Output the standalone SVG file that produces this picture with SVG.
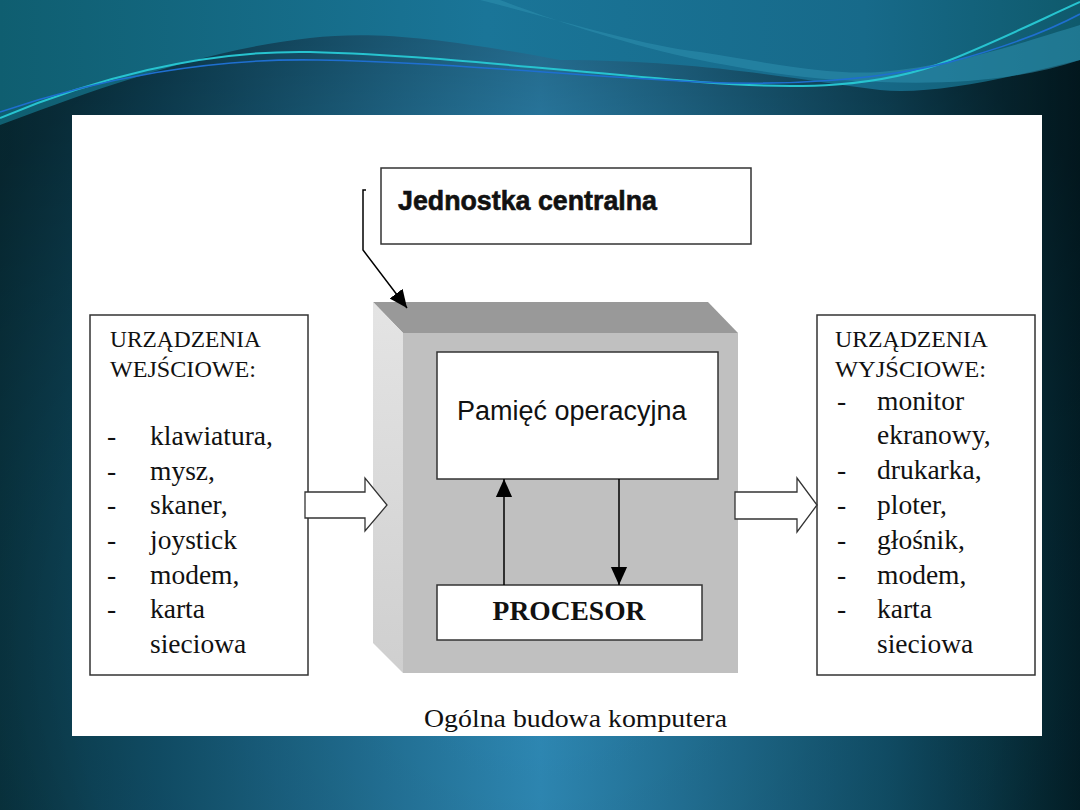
<svg xmlns="http://www.w3.org/2000/svg" width="1080" height="810" viewBox="0 0 1080 810">
<defs>
<linearGradient id="bgH" x1="0" y1="0" x2="1" y2="0">
<stop offset="0" stop-color="#0a3a48"/>
<stop offset="0.15" stop-color="#11506a"/>
<stop offset="0.5" stop-color="#2e88b4"/>
<stop offset="0.82" stop-color="#115069"/>
<stop offset="0.95" stop-color="#07303d"/>
<stop offset="1" stop-color="#03232d"/>
</linearGradient>
<radialGradient id="vign" cx="540" cy="650" r="720" gradientUnits="userSpaceOnUse">
<stop offset="0" stop-color="#000" stop-opacity="0"/>
<stop offset="0.65" stop-color="#000" stop-opacity="0.08"/>
<stop offset="1" stop-color="#000" stop-opacity="0.35"/>
</radialGradient>
<linearGradient id="topG" x1="0" y1="0" x2="1" y2="0">
<stop offset="0" stop-color="#0f5e70"/>
<stop offset="0.45" stop-color="#1a7598"/>
<stop offset="0.8" stop-color="#176a8a"/>
<stop offset="1" stop-color="#0f5a6c"/>
</linearGradient>
<linearGradient id="side" x1="0" y1="0" x2="0" y2="1">
<stop offset="0" stop-color="#e4e4e4"/>
<stop offset="1" stop-color="#cfcfcf"/>
</linearGradient>
<marker id="triBig" viewBox="0 0 10 10" refX="10" refY="5" markerWidth="18" markerHeight="18" markerUnits="userSpaceOnUse" orient="auto">
<path d="M0,0.5 L10,5 L0,9.5 Z" fill="#000"/>
</marker>
</defs>
<style>
.box{fill:#fff;stroke:#333;stroke-width:1.5}
.blk{fill:#fff;stroke:#333;stroke-width:1.3}
.serif{font-family:"Liberation Serif","Times New Roman",serif;fill:#111}
.head{font-size:23px}
.item{font-size:27.5px}
.sans{font-family:"Liberation Sans",Arial,sans-serif;fill:#111}
.ln{stroke:#000;stroke-width:1.5;fill:none}
</style>

<g id="background">
<rect x="0" y="0" width="1080" height="810" fill="url(#bgH)"/>
<rect x="0" y="0" width="1080" height="810" fill="url(#vign)"/>
<path d="M0,0 H1080 V60 C1000,80 930,95 880,90 C800,80 700,60 560,60 C450,40 380,30 310,38 C200,50 80,95 0,125 Z" fill="url(#topG)"/>
<path d="M480,0 C560,20 640,45 700,52 C780,65 830,75 880,72 C960,65 1030,40 1080,25 V60 C1020,80 950,85 880,82 C800,80 740,68 690,58 C610,40 540,15 500,0 Z" fill="#2d8fae" opacity="0.55"/>
<path d="M0,118 C90,80 200,50 310,52 C430,55 550,70 700,82 C800,90 880,88 950,60 C1000,40 1040,20 1080,2" fill="none" stroke="#27c4d0" stroke-width="2"/>
<path d="M0,112 C100,78 210,58 318,60 C440,62 560,75 700,82 C790,86 880,80 950,62 C1010,46 1050,30 1080,14" fill="none" stroke="#1f6fd0" stroke-width="1.6"/>
</g>

<rect id="panel" x="72" y="115" width="970" height="621" fill="#fff"/>

<g id="jednostka-label">
<rect class="box" x="381" y="168" width="370" height="76"/>
<text class="sans" x="398" y="210" font-size="27" font-weight="bold" stroke="#111" stroke-width="0.6" textLength="259" lengthAdjust="spacingAndGlyphs">Jednostka centralna</text>
</g>

<g id="jednostka-centralna">
<polygon points="373,302 708,302 738,333 403,333" fill="#999"/>
<polygon points="373,302 403,333 403,673 373,643" fill="url(#side)"/>
<rect x="403" y="333" width="335" height="340" fill="#c0c0c0"/>
</g>

<g id="pamiec">
<rect class="box" x="437" y="352" width="281" height="127"/>
<text class="sans" x="457" y="420" font-size="27">Pamięć operacyjna</text>
</g>

<g id="procesor">
<rect class="box" x="437" y="585" width="265" height="55"/>
<text class="serif" x="569" y="620" font-size="27.5" font-weight="bold" text-anchor="middle">PROCESOR</text>
</g>

<g id="wejsciowe">
<rect class="box" x="90" y="315" width="218" height="360"/>
<text class="serif head" x="110" y="347" textLength="151" lengthAdjust="spacingAndGlyphs">URZĄDZENIA</text>
<text class="serif head" x="110" y="377" textLength="146" lengthAdjust="spacingAndGlyphs">WEJŚCIOWE:</text>
<g class="serif item">
<text x="107" y="445">-</text><text x="150" y="445">klawiatura,</text>
<text x="107" y="480">-</text><text x="150" y="480">mysz,</text>
<text x="107" y="514">-</text><text x="150" y="514">skaner,</text>
<text x="107" y="549">-</text><text x="150" y="549">joystick</text>
<text x="107" y="584">-</text><text x="150" y="584">modem,</text>
<text x="107" y="618">-</text><text x="150" y="618">karta</text>
<text x="150" y="653">sieciowa</text>
</g>
</g>

<g id="wyjsciowe">
<rect class="box" x="817" y="315" width="218" height="360"/>
<text class="serif head" x="835" y="347" textLength="153" lengthAdjust="spacingAndGlyphs">URZĄDZENIA</text>
<text class="serif head" x="835" y="377" textLength="151" lengthAdjust="spacingAndGlyphs">WYJŚCIOWE:</text>
<g class="serif item">
<text x="837" y="410">-</text><text x="877" y="410">monitor</text>
<text x="877" y="444">ekranowy,</text>
<text x="837" y="479">-</text><text x="877" y="479">drukarka,</text>
<text x="837" y="514">-</text><text x="877" y="514">ploter,</text>
<text x="837" y="549">-</text><text x="877" y="549">głośnik,</text>
<text x="837" y="584">-</text><text x="877" y="584">modem,</text>
<text x="837" y="618">-</text><text x="877" y="618">karta</text>
<text x="877" y="653">sieciowa</text>
</g>
</g>

<g id="connectors">
<polyline class="ln" points="366,190 363,190 363,250 407,308" marker-end="url(#triBig)"/>
<line class="ln" x1="504" y1="585" x2="504" y2="479" marker-end="url(#triBig)"/>
<line class="ln" x1="619" y1="479" x2="619" y2="585" marker-end="url(#triBig)"/>
<polygon class="blk" points="305,492 365,492 365,478 387,505 365,531 365,518 305,518"/>
<polygon class="blk" points="735,492 797,492 797,478 817,505 797,532 797,519 735,519"/>
</g>

<text id="caption" class="serif" x="424" y="727" font-size="26" textLength="303" lengthAdjust="spacingAndGlyphs">Ogólna budowa komputera</text>
</svg>
